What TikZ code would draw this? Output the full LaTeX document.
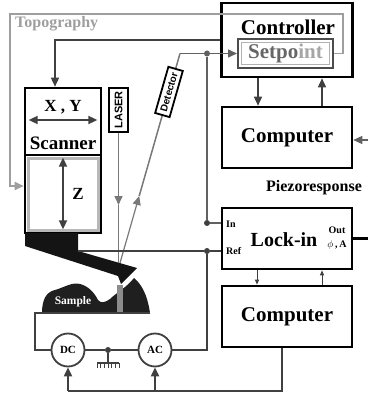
\documentclass[tikz,border=0pt]{standalone}
\usepackage{fontspec}
\setmainfont{Liberation Serif}
\setsansfont{Liberation Sans}
\usetikzlibrary{arrows.meta, calc, positioning}
\newcommand{\fsz}[1]{\fontsize{#1}{#1}\selectfont}

\begin{document}
\begin{tikzpicture}[x=1pt, y=-1pt]
    \tikzstyle{every node} = [font=\bfseries, inner sep=0pt]
    \tikzstyle{box} = [draw=black, line width=2.6pt]
    \tikzstyle{wire} = [draw=wirec, line width=1.5pt]
    \tikzstyle{lead} = [draw=wirec, line width=1pt]
    \tikzstyle{sig} = [draw=sigc, line width=1.5pt]
    \tikzstyle{beam} = [draw=beamc, line width=1.5pt]
    \tikzstyle{topo} = [draw=topoc, line width=1.8pt]
    \tikzstyle{head} = [-{Triangle[length=9pt, width=8pt]}]
    \tikzstyle{smallhead} = [-{Triangle[length=5pt, width=4pt]}]
    \tikzstyle{dbl} = [{Triangle[length=9pt, width=8pt]}-{Triangle[length=9pt, width=8pt]}]
    \tikzstyle{dot} = [fill=wirec, circle, minimum size=6pt]
    \tikzstyle{src} = [draw=wirec, line width=1.8pt, circle, fill=white, minimum size=33pt, font=\bfseries\fsz{11}]
    \tikzstyle{tag} = [draw=black, line width=1.8pt, fill=white, font=\sffamily\bfseries\fsz{10}, inner sep=2pt]

    \definecolor{wirec}{rgb}{0.25,0.25,0.25}
    \definecolor{sigc}{rgb}{0.38,0.38,0.38}
    \definecolor{beamc}{rgb}{0.47,0.47,0.47}
    \definecolor{topoc}{rgb}{0.62,0.62,0.62}

    \useasboundingbox (0,0) rectangle (368,393);

    % controller, lock-in and the two computers
    \node[box, minimum width=131pt, minimum height=74pt] (ctrl) at (287,40) {};
    \node[font=\bfseries\fsz{21}, anchor=base] (ctrltxt) at (288,35) {Controller};
    \node[draw=black!70, line width=2pt, minimum width=95pt, minimum height=29pt] (setp) at (285.5,53.5) {};
    \node[draw=black!30, line width=1.5pt, minimum width=88pt, minimum height=22pt] (setpin) at (setp.center) {};
    \node[font=\bfseries\fsz{21}] (setptxt) at (setp.center) {\color{black!60}Setpo\color{black!35}int};
    \node[box, minimum width=130pt, minimum height=61pt, font=\bfseries\fsz{21}] (comp1) at (287,137.5) {Computer};
    \node[box, minimum width=130pt, minimum height=61pt] (lockin) at (287,238.5) {};
    \node[box, minimum width=130pt, minimum height=61pt, font=\bfseries\fsz{21}] (comp2) at (287,316.5) {Computer};
    \node[font=\bfseries\fsz{20}] (locktxt) at (284,240) {Lock-in};
    \node[font=\bfseries\fsz{10}, anchor=west] (intxt) at (226,224) {In};
    \node[font=\bfseries\fsz{10}, anchor=west] (reftxt) at (226,251) {Ref};
    \node[font=\bfseries\fsz{10}] (outtxt) at (337,230) {Out};
    \node[font=\bfseries\fsz{10}] (phitxt) at (337,245) {$\phi$\,,\,A};
    \node[font=\bfseries\fsz{16}] (piezo) at (314,188) {Piezoresponse};

    % scanner
    \node[box, minimum width=76pt, minimum height=67pt] (xy) at (63,121.5) {};
    \node[box, minimum width=76pt, minimum height=78pt] (z) at (63,194) {};
    \node[draw=black!28, line width=3pt, minimum width=70pt, minimum height=72pt] (zin) at (z.center) {};
    \node[font=\bfseries\fsz{17}] (xytxt) at (63,107) {X , Y};
    \node[font=\bfseries\fsz{19}] (scantxt) at (63,143) {Scanner};
    \node[font=\bfseries\fsz{17}] (ztxt) at ($(z.center)+(15,0)$) {Z};
    \draw[wire, line width=2pt, dbl] ($(xy.west)+(5,-1.5)$) -- ($(xy.east)+(-5,-1.5)$);
    \draw[wire, line width=2pt, dbl] ($(z.north)+(0,4)$) -- ($(z.south)+(0,-5)$);

    % holder with cantilever and tip
    \fill[black!92] (25,233) -- (78,233) -- (78,251) -- (137,268) -- (121,284) -- (118,276) -- (25,246) -- cycle;

    % sample on its plate
    \fill[black!88] (42,313) .. controls (42,300) and (46,292) .. (55,290)
        .. controls (65,287) and (72,282) .. (80,284)
        .. controls (88,286) and (94,292) .. (98,300)
        .. controls (101,304) and (106,302) .. (110,299)
        .. controls (116,293) and (126,288) .. (134,278)
        .. controls (140,283) and (147,292) .. (150,313) -- cycle;
    \fill[black!45] (117,285) rectangle (123,313);
    \node[text=white, font=\bfseries\fsz{11.5}] (smptxt) at (73,302) {Sample};

    % laser and detector
    \node[tag, font=\sffamily\bfseries\fsz{11}, minimum width=19pt, minimum height=44pt] (laser) at (118.5,110) {\rotatebox{90}{LASER}};
    \coordinate (spot) at (120,263);
    \coordinate (bend) at (180,53.5);
    \coordinate (laserhead) at (118.5,205);
    \draw[beam, head] (laser.south) -- (laserhead);
    \draw[beam, line width=1pt] (laserhead) -- (laserhead |- spot);
    \path (spot) -- (bend) coordinate[pos=0.32] (reflhead);
    \draw[beam, line width=1.2pt, head] (spot) -- (reflhead);
    \draw[beam] (reflhead) -- node[tag, sloped, pos=0.73, minimum height=15pt, minimum width=48pt] (det) {Detector} (bend);
    \node[dot, fill=sigc] (detdot) at (207,53.5) {};
    \draw[sig, head] (bend) -- (setp.west);

    % deflection to lock-in, tip bias to reference
    \node[dot] (indot) at (207,223) {};
    \node[dot] (refdot) at (207,251) {};
    \coordinate (holder) at (78,251);
    \draw[sig] (detdot) -- (indot) -- (lockin.west |- indot);
    \draw[wire] (holder) -- (refdot) -- (lockin.west |- refdot);

    % topography feedback
    \coordinate (topr) at (343,14);
    \coordinate (topl) at (10,14);
    \draw[topo, head] (setp.east) -| (topr) -- (topl) |- ($(z.west)+(0,-8)$);
    \node[text=topoc, font=\bfseries\fsz{16}, anchor=west] (topotxt) at (15,24) {Topography};

    % controller links
    \draw[wire, head] (ctrl.west) -| ($(xy.north)+(-8,0)$);
    \draw[wire, head] ($(ctrl.south)+(-29,0)$) -- ($(comp1.north)+(-29,0)$);
    \draw[wire, head] ($(comp1.north)+(35,0)$) -- ($(ctrl.south)+(35,0)$);
    \draw[lead, smallhead] ($(lockin.south)+(-30,0)$) -- ($(comp2.north)+(-30,0)$);
    \draw[lead, smallhead] ($(comp2.north)+(35,0)$) -- ($(lockin.south)+(35,0)$);
    \coordinate (outend) at (368,238.5);
    \draw[box] (lockin.east) -- (outend);
    \coordinate (inend) at (368,140);
    \draw[sig, head] (inend) -- (comp1.east |- inend);

    % DC and AC sources
    \node[src] (dc) at (68,350) {DC};
    \node[src] (ac) at (155,350) {AC};
    \node[dot] (gnd) at (108,350) {};
    \draw[wire] (dc.east) -- (gnd) -- (ac.west);
    \draw[wire] (ac.east) -| (refdot);
    \coordinate (platel) at (35,313);
    \coordinate (plater) at (150,313);
    \draw[wire] (dc.west) -| (platel) -- (plater);
    \coordinate (gbar) at (108,363);
    \draw[wire] (gnd) -- (gbar);
    \draw[wire, line width=1.2pt] ($(gbar)+(-11,0)$) -- ($(gbar)+(11,0)$);
    \foreach \i in {0,...,6} {
        \draw[lead, line width=0.8pt] ($(gbar)+(-11+\i*3.667,0)$) -- ++(0,5);
    }

    % computer drives both sources
    \coordinate (bus) at (68,391);
    \draw[wire, line width=2pt] ($(comp2.south)+(-5,0)$) |- (bus);
    \draw[wire, line width=2pt, head] (bus) -- (dc.south);
    \draw[wire, line width=2pt, head] (ac.south |- bus) -- (ac.south);
\end{tikzpicture}
\end{document}
